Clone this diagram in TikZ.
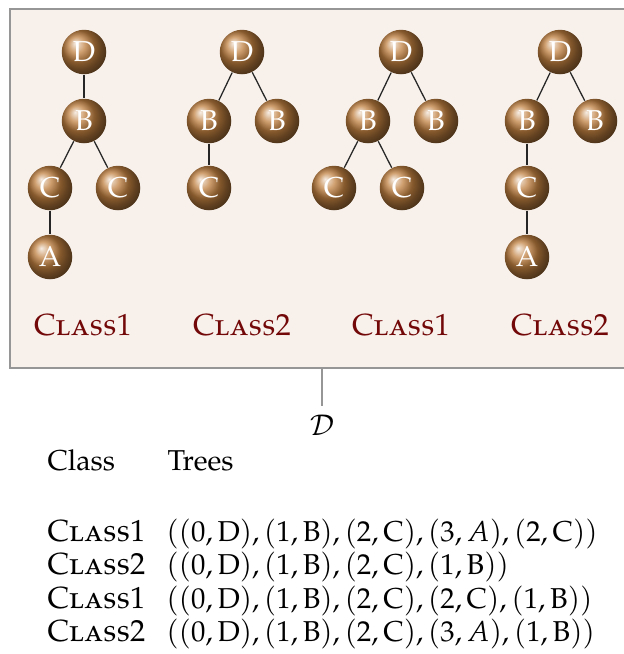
\documentclass[tikz,border=0pt]{standalone}
\usepackage[T1]{fontenc}
\usepackage[sc]{mathpazo}
\definecolor{boxbg}{RGB}{247,240,235}
\definecolor{boxline}{RGB}{150,150,150}
\definecolor{classred}{RGB}{115,8,8}
\begin{document}
\begin{tikzpicture}[x=0.4pt,y=-0.4pt,
  every node/.style={font=\fontsize{11.5}{14}\selectfont},
  ball/.style={circle, ball color=brown, minimum size=17.8pt, inner sep=0pt,
    text=white, font=\fontsize{11.5}{14}\selectfont},
  edge/.style={draw=black!85, line width=0.5pt},
  classlbl/.style={text=classred, anchor=base, font=\fontsize{12.2}{14}\selectfont\scshape},
  rowtext/.style={anchor=base west, inner sep=0pt},
  sclbl/.style={anchor=base west, inner sep=0pt, font=\fontsize{12.2}{14}\selectfont\scshape}]
\useasboundingbox (0,0) rectangle (624,654);
% frame
\node[draw=boxline, fill=boxbg, line width=0.5pt, minimum width=249.6pt,
  minimum height=143.6pt, inner sep=0pt] (box) at (322,188.5) {};
% tree 1
\node[ball] (t1d) at (84,52) {D};
\node[ball] (t1b) at (84,121) {B};
\node[ball] (t1c) at (50,188) {C};
\node[ball] (t1e) at (118,188) {C};
\node[ball] (t1a) at (50,257) {A};
\draw[edge] (t1d) -- (t1b); \draw[edge] (t1b) -- (t1c); \draw[edge] (t1b) -- (t1e); \draw[edge] (t1c) -- (t1a);
% tree 2
\node[ball] (t2d) at (242,52) {D};
\node[ball] (t2b) at (209,121) {B};
\node[ball] (t2e) at (277,121) {B};
\node[ball] (t2c) at (209,188) {C};
\draw[edge] (t2d) -- (t2b); \draw[edge] (t2d) -- (t2e); \draw[edge] (t2b) -- (t2c);
% tree 3
\node[ball] (t3d) at (401,52) {D};
\node[ball] (t3b) at (368,121) {B};
\node[ball] (t3e) at (436,121) {B};
\node[ball] (t3c) at (334,188) {C};
\node[ball] (t3f) at (402,188) {C};
\draw[edge] (t3d) -- (t3b); \draw[edge] (t3d) -- (t3e); \draw[edge] (t3b) -- (t3c); \draw[edge] (t3b) -- (t3f);
% tree 4
\node[ball] (t4d) at (560,52) {D};
\node[ball] (t4b) at (527,121) {B};
\node[ball] (t4e) at (595,121) {B};
\node[ball] (t4c) at (527,188) {C};
\node[ball] (t4a) at (527,257) {A};
\draw[edge] (t4d) -- (t4b); \draw[edge] (t4d) -- (t4e); \draw[edge] (t4b) -- (t4c); \draw[edge] (t4c) -- (t4a);
% class labels
\node[classlbl] (l1) at (83,335) {Class1};
\node[classlbl] (l2) at (242,335) {Class2};
\node[classlbl] (l3) at (401,335) {Class1};
\node[classlbl] (l4) at (560,335) {Class2};
% dataset
\node (dset) at (322,425) {$\mathcal{D}$};
\draw[draw=boxline, line width=0.5pt] (box.south) -- (dset.north);
% table
\node[rowtext] (hc) at (47,470) {Class};
\node[rowtext] (ht) at (167,470) {Trees};
\node[sclbl] (r1c) at (47,541) {Class1};
\node[rowtext] (r1t) at (166,541) {$((0,\mathrm{D}),(1,\mathrm{B}),(2,\mathrm{C}),(3,A),(2,\mathrm{C}))$};
\node[sclbl] (r2c) at (47,574) {Class2};
\node[rowtext] (r2t) at (166,574) {$((0,\mathrm{D}),(1,\mathrm{B}),(2,\mathrm{C}),(1,\mathrm{B}))$};
\node[sclbl] (r3c) at (47,608) {Class1};
\node[rowtext] (r3t) at (166,608) {$((0,\mathrm{D}),(1,\mathrm{B}),(2,\mathrm{C}),(2,\mathrm{C}),(1,\mathrm{B}))$};
\node[sclbl] (r4c) at (47,641) {Class2};
\node[rowtext] (r4t) at (166,641) {$((0,\mathrm{D}),(1,\mathrm{B}),(2,\mathrm{C}),(3,A),(1,\mathrm{B}))$};
\end{tikzpicture}
\end{document}
